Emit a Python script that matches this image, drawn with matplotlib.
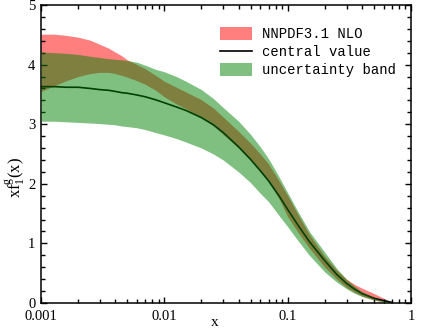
import matplotlib
matplotlib.use("Agg")
import matplotlib.pyplot as plt
from matplotlib.patches import Patch
from matplotlib.lines import Line2D
from matplotlib.ticker import LogLocator, MultipleLocator, FixedLocator, FixedFormatter

# x grid (log scale)
x = [0.001, 0.0013, 0.0016, 0.002, 0.0025, 0.003, 0.0035, 0.004, 0.0045, 0.005,
     0.006, 0.007, 0.0085, 0.01, 0.0125, 0.015, 0.02, 0.025, 0.03, 0.04, 0.05,
     0.06, 0.07, 0.085, 0.1, 0.12, 0.15, 0.2, 0.25, 0.3, 0.35, 0.4, 0.5, 0.6, 0.7]

# NNPDF3.1 NLO band
nnpdf_upper = [4.51, 4.51, 4.49, 4.46, 4.41, 4.34, 4.28, 4.21, 4.15, 4.08,
               4.00, 3.93, 3.82, 3.72, 3.62, 3.54, 3.41, 3.27, 3.12, 2.88, 2.68,
               2.50, 2.33, 2.05, 1.80, 1.50, 1.15, 0.78, 0.55, 0.40, 0.31, 0.25, 0.16, 0.08, 0.01]
nnpdf_lower = [3.55, 3.65, 3.73, 3.80, 3.85, 3.87, 3.87, 3.85, 3.82, 3.79,
               3.73, 3.67, 3.57, 3.46, 3.34, 3.26, 3.11, 2.97, 2.83, 2.60, 2.40,
               2.20, 2.03, 1.75, 1.45, 1.20, 0.92, 0.60, 0.40, 0.26, 0.18, 0.12, 0.05, 0.02, 0.0]

# central value
central = [3.63, 3.63, 3.62, 3.62, 3.60, 3.58, 3.57, 3.55, 3.53, 3.52,
           3.49, 3.46, 3.41, 3.36, 3.29, 3.23, 3.11, 2.99, 2.86, 2.62, 2.41,
           2.22, 2.05, 1.80, 1.57, 1.32, 1.03, 0.71, 0.48, 0.33, 0.23, 0.16, 0.08, 0.04, 0.01]

# uncertainty band
band_upper = [4.21, 4.20, 4.19, 4.17, 4.14, 4.12, 4.10, 4.09, 4.08, 4.07,
              4.04, 3.99, 3.92, 3.88, 3.80, 3.72, 3.58, 3.43, 3.28, 3.05, 2.83,
              2.62, 2.42, 2.12, 1.85, 1.55, 1.20, 0.85, 0.58, 0.40, 0.28, 0.19, 0.09, 0.04, 0.01]
band_lower = [3.05, 3.05, 3.04, 3.03, 3.02, 3.01, 3.00, 2.99, 2.97, 2.96,
              2.94, 2.91, 2.86, 2.82, 2.76, 2.70, 2.60, 2.50, 2.40, 2.20, 2.02,
              1.84, 1.70, 1.47, 1.28, 1.06, 0.80, 0.52, 0.35, 0.24, 0.16, 0.11, 0.05, 0.02, 0.01]

xticks = [0.001, 0.01, 0.1, 1]
xticklabels = ["0.001", "0.01", "0.1", "1"]
yticks = [0, 1, 2, 3, 4, 5]

plt.rcParams['font.family'] = ['Liberation Serif', 'DejaVu Serif']
plt.rcParams['mathtext.fontset'] = 'custom'
plt.rcParams['mathtext.rm'] = 'Liberation Serif'
plt.rcParams['mathtext.it'] = 'Liberation Serif'

fig = plt.figure(figsize=(4.29, 3.30), dpi=100)
ax = fig.add_axes([41/429, 27/330, 370/429, 298/330])

ax.fill_between(x, nnpdf_lower, nnpdf_upper, color='red', alpha=0.5, lw=0, zorder=1)
ax.plot(x, central, color='black', lw=1.2, zorder=2)
ax.fill_between(x, band_lower, band_upper, color='green', alpha=0.5, lw=0, zorder=3)

ax.set_xscale('log')
ax.set_xlim(0.001, 1)
ax.set_ylim(0, 5)
ax.xaxis.set_major_locator(FixedLocator(xticks))
ax.xaxis.set_major_formatter(FixedFormatter(xticklabels))
ax.xaxis.set_minor_locator(LogLocator(base=10, subs=range(2, 10)))
ax.xaxis.set_minor_formatter(plt.NullFormatter())
ax.yaxis.set_major_locator(FixedLocator(yticks))
ax.yaxis.set_minor_locator(MultipleLocator(0.2))

ax.tick_params(which='both', direction='in', top=True, right=True, width=1.0,
               labelsize=10.5)
ax.tick_params(which='major', length=4.5)
ax.tick_params(which='minor', length=2.8)
ax.tick_params(axis='x', which='major', pad=5)
ax.tick_params(axis='y', which='major', pad=4)
for s in ax.spines.values():
    s.set_linewidth(1.1)

fig.text(15/429, 152/330, r'xf$_1^{\rm g}$(x)', rotation=90, ha='center', va='center',
         fontsize=12)
fig.text(215/429, 0.5/330, 'x', ha='center', va='bottom', fontsize=11)

handles = [Patch(facecolor='red', alpha=0.5, edgecolor='none'),
           Line2D([], [], color='black', lw=1.2),
           Patch(facecolor='green', alpha=0.5, edgecolor='none')]
labels = ['NNPDF3.1 NLO', 'central value', 'uncertainty band']
leg = fig.legend(handles, labels, loc='upper left', bbox_to_anchor=(220/429, 1 - 27/330),
                 frameon=False, borderpad=0, borderaxespad=0, handlelength=2.3,
                 handleheight=1.1, handletextpad=0.75, labelspacing=0.25,
                 prop={'family': 'Liberation Mono', 'size': 10})

fig.savefig('out.png', dpi=100)
